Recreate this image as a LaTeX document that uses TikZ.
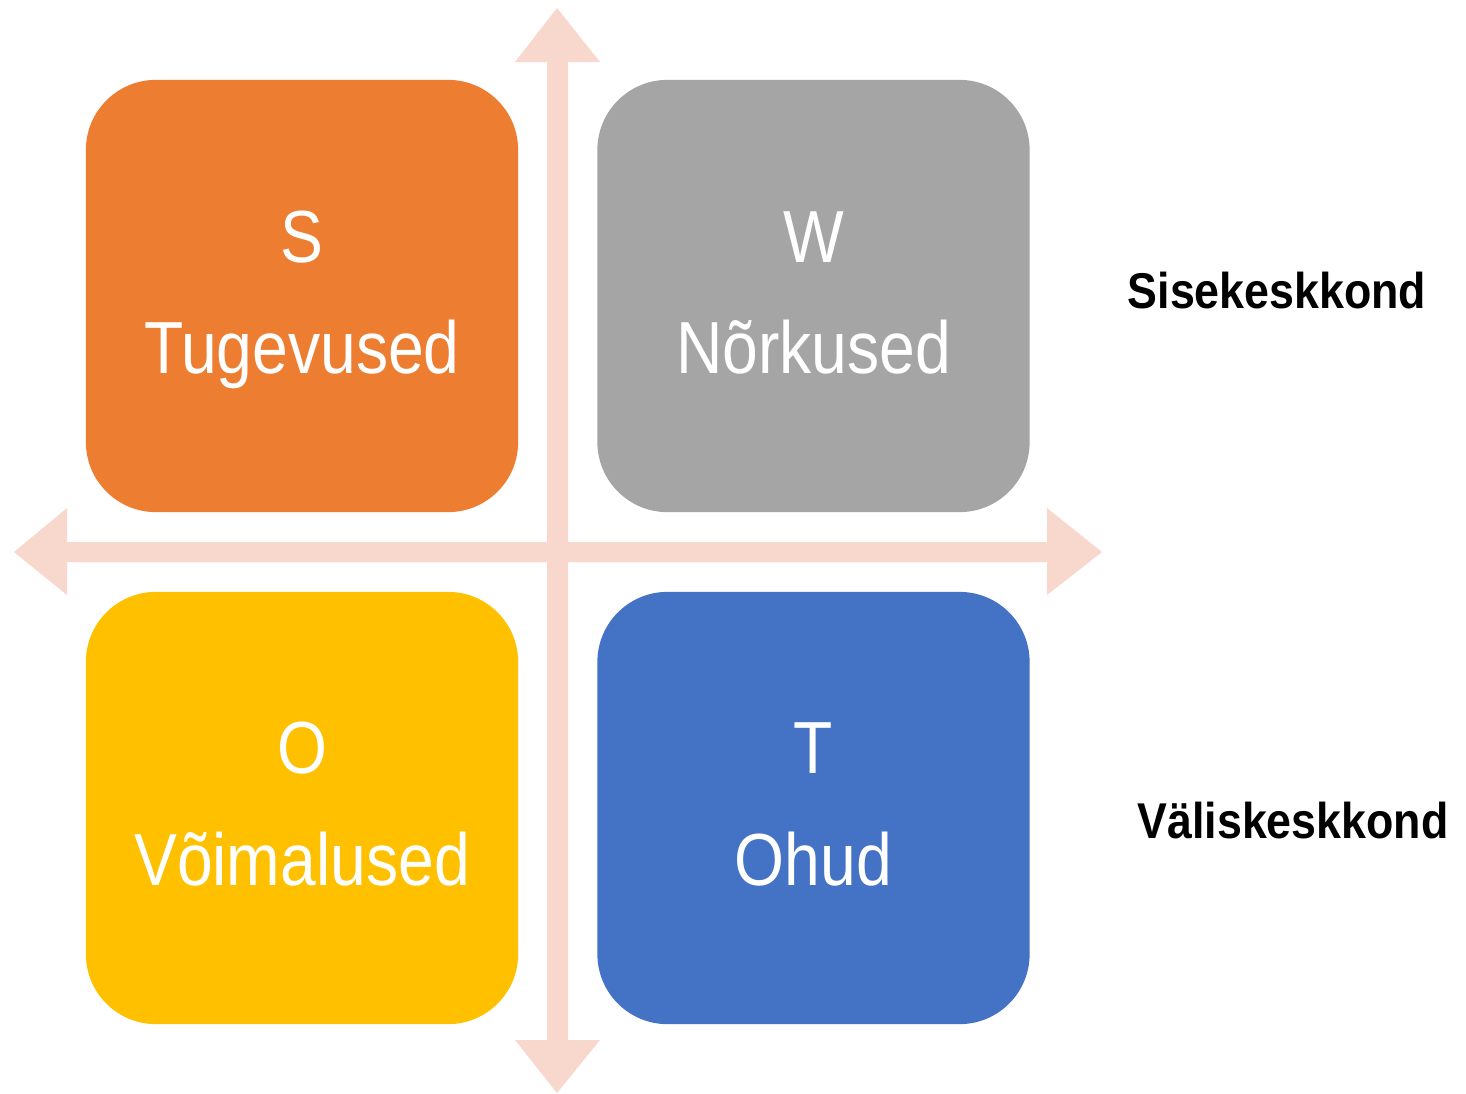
\documentclass[tikz,border=0pt]{standalone}
\usepackage{fontspec}
\setmainfont{Liberation Sans}
\newfontfamily\boxfont[FakeStretch=0.87]{Liberation Sans}
\newfontfamily\sidefont[FakeStretch=0.89]{Liberation Sans}
\definecolor{arrowc}{HTML}{F8D7CC}
\definecolor{cS}{HTML}{ED7D31}
\definecolor{cW}{HTML}{A5A5A5}
\definecolor{cO}{HTML}{FFC000}
\definecolor{cT}{HTML}{4472C4}
\begin{document}
\begin{tikzpicture}[x=0.01cm,y=-0.01cm,
  quad/.style={draw=none,rounded corners=0.7cm,minimum width=4.32cm,minimum height=4.32cm,inner sep=0pt},
  btext/.style={anchor=base,text=white,font=\boxfont\fontsize{21}{25}\selectfont,inner sep=0pt},
  side/.style={anchor=base,text=black,font=\sidefont\bfseries\fontsize{14.3}{17}\selectfont,inner sep=0pt}]
\useasboundingbox (0,0) rectangle (1466,1093);
% axes
\fill[arrowc] (547,62) -- (515,62) -- (557,8) -- (600,62) -- (568,62) -- (568,1040) -- (600,1040) -- (557,1093) -- (515,1040) -- (547,1040) -- cycle;
\fill[arrowc] (67,542) -- (67,508) -- (14,552) -- (67,595) -- (67,562) -- (1047,562) -- (1047,595) -- (1102,552) -- (1047,508) -- (1047,542) -- cycle;
% boxes
\node[quad,fill=cS] (S) at (302,296) {};
\node[quad,fill=cW] (W) at (813.5,296) {};
\node[quad,fill=cO] (O) at (302,808) {};
\node[quad,fill=cT] (T) at (813.5,808) {};
% texts
\node[btext] (s1) at (302,262) {S};
\node[btext] (s2) at (302,373) {Tugevused};
\node[btext] (w1) at (813.5,262) {W};
\node[btext] (w2) at (813.5,373) {Nõrkused};
\node[btext] (o1) at (302,773) {O};
\node[btext] (o2) at (302,885) {Võimalused};
\node[btext] (t1) at (813.5,773) {T};
\node[btext] (t2) at (813.5,885) {Ohud};
\node[side] (sise) at (1277,308) {Sisekeskkond};
\node[side] (valis) at (1293,838) {Väliskeskkond};
\end{tikzpicture}
\end{document}
